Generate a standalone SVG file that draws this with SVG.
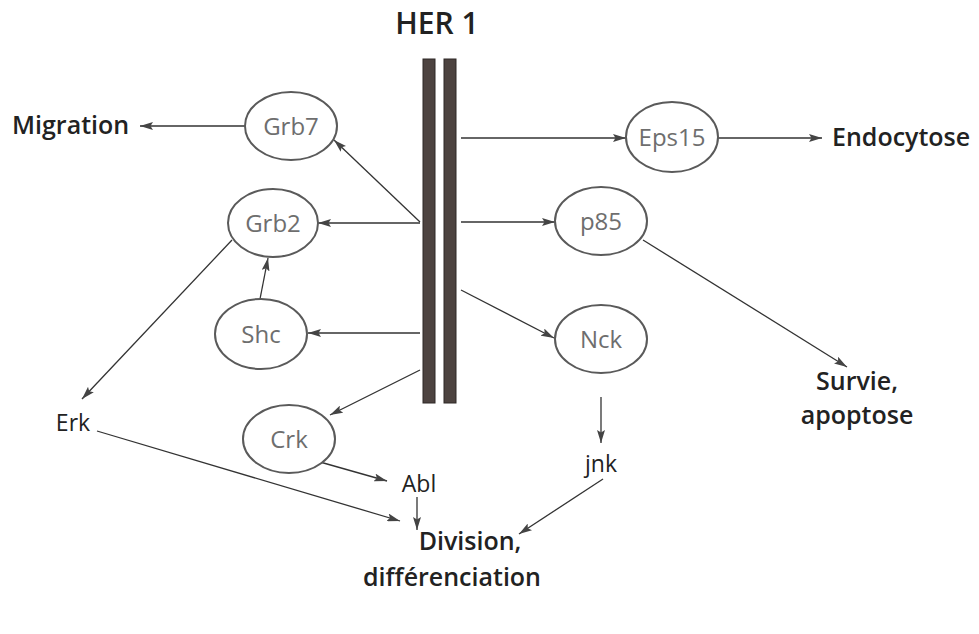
<svg xmlns="http://www.w3.org/2000/svg" width="979" height="634" viewBox="0 0 979 634">
<style>
.node ellipse{fill:#fff;stroke:#5a5a5a;stroke-width:2}
.node text{font-family:"Open Sans","Noto Sans",sans-serif;font-size:24px;fill:#6e6e6e;text-anchor:middle}
.lbl{font-family:"Open Sans","Noto Sans",sans-serif;font-size:23px;fill:#222}
.big{font-family:"Open Sans","Noto Sans",sans-serif;font-size:25px;font-weight:600;fill:#222}
.conn line{stroke:#333;stroke-width:1.3;fill:none}
.arr{marker-end:url(#ah)}
.bar{fill:#4d4340;stroke:#2e2826;stroke-width:1}
</style>
<defs>
<marker id="ah" viewBox="0 0 13 8" refX="13" refY="4" markerWidth="13" markerHeight="8" markerUnits="userSpaceOnUse" orient="auto">
<path d="M0,0 L13,4 L0,8 L2.5,4 Z" fill="#444"/>
</marker>
</defs>
<rect width="979" height="634" fill="#fff"/>

<g id="title"><text class="big" x="437" y="34" text-anchor="middle" style="font-size:30px">HER 1</text></g>

<g id="membrane">
<rect class="bar" x="423" y="59" width="12" height="344"/>
<rect class="bar" x="444" y="59" width="12" height="344"/>
</g>

<g class="conn">
<line class="arr" x1="245" y1="126" x2="140" y2="126"/>
<line class="arr" x1="420" y1="222" x2="334" y2="140"/>
<line class="arr" x1="420" y1="223" x2="318" y2="223"/>
<line class="arr" x1="260" y1="299" x2="268" y2="258"/>
<line class="arr" x1="420" y1="333" x2="308" y2="333"/>
<line class="arr" x1="420" y1="370" x2="330" y2="415"/>
<line class="arr" x1="232" y1="240" x2="82" y2="399"/>
<line class="arr" x1="97" y1="431" x2="400" y2="521"/>
<line class="arr" x1="320" y1="462" x2="387" y2="481"/>
<line class="arr" x1="417" y1="497" x2="417" y2="530"/>
<line class="arr" x1="601" y1="397" x2="601" y2="443"/>
<line class="arr" x1="603" y1="479" x2="519" y2="534"/>
<line class="arr" x1="461" y1="138" x2="626" y2="138"/>
<line class="arr" x1="718" y1="138" x2="822" y2="138"/>
<line class="arr" x1="461" y1="222" x2="555" y2="222"/>
<line class="arr" x1="643" y1="240" x2="847" y2="367"/>
<line class="arr" x1="461" y1="290" x2="554" y2="338"/>
</g>

<g id="Grb7" class="node"><ellipse cx="291" cy="126" rx="46" ry="34"/><text x="291" y="135">Grb7</text></g>
<g id="Grb2" class="node"><ellipse cx="273" cy="223" rx="45" ry="34"/><text x="273" y="232">Grb2</text></g>
<g id="Shc" class="node"><ellipse cx="261" cy="334" rx="46" ry="35"/><text x="261" y="343">Shc</text></g>
<g id="Crk" class="node"><ellipse cx="289" cy="439" rx="46" ry="34"/><text x="289" y="448">Crk</text></g>
<g id="Eps15" class="node"><ellipse cx="672" cy="137" rx="46" ry="35"/><text x="672" y="146">Eps15</text></g>
<g id="p85" class="node"><ellipse cx="601" cy="221" rx="46" ry="34"/><text x="601" y="230">p85</text></g>
<g id="Nck" class="node"><ellipse cx="601" cy="339" rx="46" ry="34"/><text x="601" y="348">Nck</text></g>

<g id="Migration"><text class="big" x="12" y="134">Migration</text></g>
<g id="Endocytose"><text class="big" x="832" y="146">Endocytose</text></g>
<g id="Survie"><text class="big" x="857" y="390" text-anchor="middle">Survie,</text><text class="big" x="857" y="424" text-anchor="middle">apoptose</text></g>
<g id="Erk"><text class="lbl" x="73" y="431" text-anchor="middle">Erk</text></g>
<g id="Abl"><text class="lbl" x="419" y="492" text-anchor="middle">Abl</text></g>
<g id="jnk"><text class="lbl" x="601" y="472" text-anchor="middle">jnk</text></g>
<g id="Division"><text class="big" x="470" y="550" text-anchor="middle">Division,</text><text class="big" x="452" y="586" text-anchor="middle">différenciation</text></g>
</svg>
